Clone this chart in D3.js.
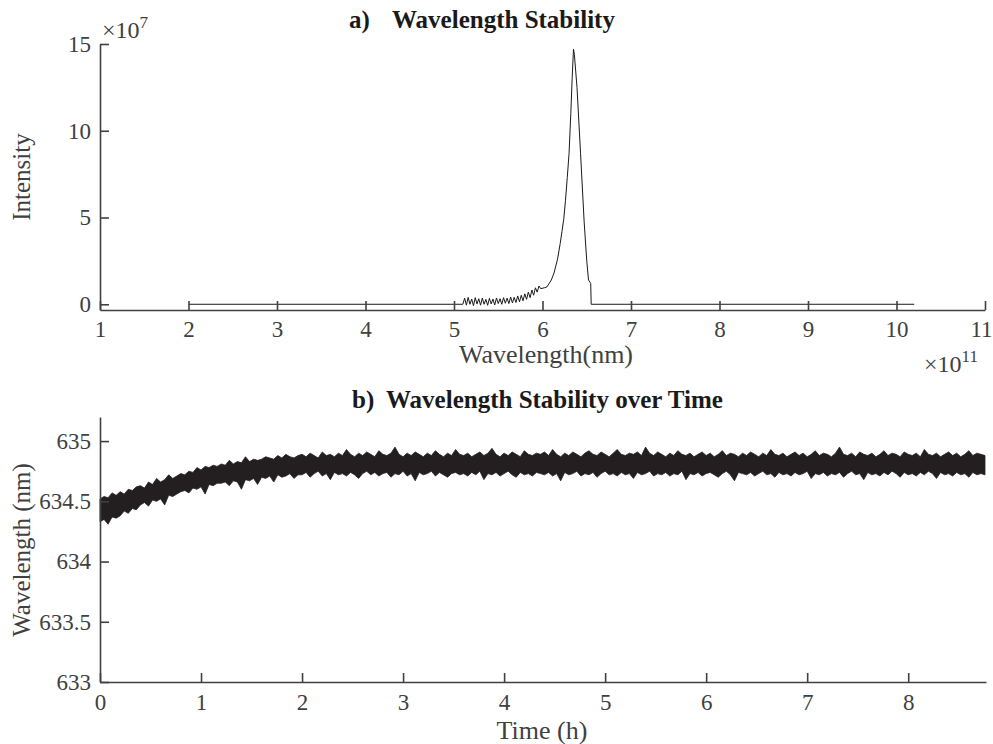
<!DOCTYPE html>
<html lang="en">
<head>
<meta charset="UTF-8">
<title>Wavelength Stability</title>
<script src="https://cdn.jsdelivr.net/npm/d3@7"></script>
<style>
  body { margin: 0; background: #fff; }
  svg text { font-family: "Liberation Serif", "Times New Roman", serif; }
  .axis path, .axis line { stroke: #404040; stroke-width: 1.6px; }
  .axis text { fill: #404040; font-size: 23px; font-family: "Liberation Serif", "Times New Roman", serif; }
  .label { fill: #404040; font-size: 26px; }
  .title { fill: #1a1a1a; font-size: 25px; font-weight: bold; }
</style>
</head>
<body>
<div id="chart"></div>
<script>
// a) spectrum: wavelength in units of 1e11 nm, intensity in units of 1e7
var specWavelength = [2.0,
  5.10, 5.12, 5.14, 5.16, 5.18, 5.20, 5.22, 5.24, 5.26, 5.28,
  5.30, 5.32, 5.34, 5.36, 5.38, 5.40, 5.42, 5.44, 5.46, 5.48,
  5.50, 5.52, 5.54, 5.56, 5.58, 5.60, 5.62, 5.64, 5.66, 5.68,
  5.70, 5.72, 5.74, 5.76, 5.78, 5.80, 5.82, 5.84, 5.86, 5.88,
  5.90, 5.92, 5.94, 5.96, 5.98,
  6.02, 6.05, 6.10, 6.13, 6.17, 6.20, 6.22, 6.24, 6.26, 6.28, 6.30,
  6.32, 6.335, 6.35, 6.36, 6.39, 6.43, 6.47, 6.50, 6.52, 6.545, 6.55, 10.2];
var specIntensity = [0,
  0.00, 0.35, -0.05, 0.40, 0.00, 0.30, -0.08, 0.38, 0.02, 0.32,
  -0.05, 0.36, 0.00, 0.28, -0.06, 0.34, 0.02, 0.30, -0.04, 0.36,
  0.04, 0.32, 0.00, 0.38, 0.06, 0.35, 0.04, 0.42, 0.08, 0.40,
  0.10, 0.48, 0.14, 0.52, 0.20, 0.60, 0.28, 0.70, 0.38, 0.82,
  0.52, 0.95, 0.70, 1.05, 0.90,
  0.95, 1.0, 1.4, 1.8, 2.6, 3.5, 4.2, 4.9, 6.0, 7.3, 8.7,
  11.0, 13.0, 14.7, 14.4, 12.5, 8.7, 4.8, 2.5, 1.4, 1.2, 0, 0];
var specXTicks = [1, 2, 3, 4, 5, 6, 7, 8, 9, 10, 11];
var specYTicks = [0, 5, 10, 15];

// b) wavelength over time: sampled every 0.04 h, band edges of the trace in nm
var timeStep = 0.04;
var bandHigh = [
  634.52, 634.54, 634.53, 634.57, 634.55, 634.58, 634.56, 634.60, 634.59, 634.62,
  634.63, 634.61, 634.66, 634.64, 634.69, 634.66, 634.68, 634.72, 634.69, 634.71,
  634.73, 634.72, 634.75, 634.74, 634.78, 634.76, 634.79, 634.78, 634.80, 634.79,
  634.81, 634.80, 634.84, 634.81, 634.83, 634.82, 634.87, 634.83, 634.85, 634.84,
  634.85, 634.87, 634.86, 634.85, 634.88, 634.86, 634.89, 634.87, 634.86, 634.88,
  634.89, 634.87, 634.90, 634.88, 634.86, 634.91, 634.88, 634.89, 634.87, 634.90,
  634.88, 634.93, 634.89, 634.87, 634.90, 634.88, 634.91, 634.89, 634.87, 634.92,
  634.89, 634.88, 634.90, 634.95, 634.89, 634.87, 634.90, 634.88, 634.91, 634.89,
  634.87, 634.90, 634.88, 634.92, 634.89, 634.87, 634.90, 634.88, 634.93, 634.89,
  634.88, 634.90, 634.87, 634.89, 634.91, 634.88, 634.90, 634.94, 634.89, 634.87,
  634.90, 634.88, 634.91, 634.89, 634.87, 634.92, 634.89, 634.88, 634.90, 634.89,
  634.91, 634.88, 634.93, 634.89, 634.87, 634.90, 634.88, 634.91, 634.89, 634.87,
  634.90, 634.92, 634.89, 634.88, 634.91, 634.89, 634.87, 634.90, 634.93, 634.89,
  634.88, 634.90, 634.89, 634.91, 634.88, 634.95, 634.90, 634.88, 634.91, 634.89,
  634.87, 634.90, 634.88, 634.92, 634.89, 634.88, 634.90, 634.87, 634.89, 634.91,
  634.88, 634.90, 634.87, 634.89, 634.92, 634.88, 634.90, 634.89, 634.87, 634.90,
  634.88, 634.91, 634.89, 634.87, 634.90, 634.88, 634.93, 634.89, 634.88, 634.90,
  634.87, 634.89, 634.91, 634.88, 634.90, 634.87, 634.89, 634.92, 634.88, 634.90,
  634.89, 634.87, 634.90, 634.95, 634.89, 634.88, 634.90, 634.87, 634.91, 634.89,
  634.88, 634.90, 634.87, 634.89, 634.92, 634.88, 634.90, 634.89, 634.87, 634.91,
  634.89, 634.88, 634.90, 634.87, 634.93, 634.89, 634.88, 634.90, 634.87, 634.89,
  634.91, 634.88, 634.90, 634.87, 634.89, 634.92, 634.88, 634.90, 634.89, 634.88];
var bandLow = [
  634.33, 634.35, 634.31, 634.37, 634.36, 634.38, 634.42, 634.40, 634.44, 634.43,
  634.47, 634.49, 634.46, 634.51, 634.50, 634.52, 634.47, 634.55, 634.54, 634.56,
  634.58, 634.59, 634.57, 634.61, 634.60, 634.62, 634.56, 634.64, 634.63, 634.65,
  634.65, 634.66, 634.63, 634.67, 634.66, 634.60, 634.68, 634.67, 634.69, 634.64,
  634.70, 634.69, 634.71, 634.66, 634.72, 634.70, 634.71, 634.73, 634.69, 634.72,
  634.72, 634.74, 634.70, 634.73, 634.75, 634.71, 634.73, 634.68, 634.74, 634.72,
  634.73, 634.71, 634.74, 634.72, 634.69, 634.73, 634.75, 634.72, 634.74, 634.71,
  634.73, 634.74, 634.70, 634.73, 634.72, 634.75, 634.71, 634.73, 634.67, 634.74,
  634.72, 634.73, 634.75, 634.71, 634.74, 634.72, 634.70, 634.73, 634.74, 634.72,
  634.73, 634.71, 634.74, 634.72, 634.75, 634.68, 634.73, 634.72, 634.74, 634.71,
  634.73, 634.75, 634.72, 634.70, 634.74, 634.72, 634.73, 634.71, 634.74, 634.73,
  634.72, 634.74, 634.71, 634.73, 634.67, 634.74, 634.72, 634.73, 634.75, 634.71,
  634.73, 634.72, 634.74, 634.70, 634.73, 634.75, 634.72, 634.73, 634.71, 634.74,
  634.72, 634.73, 634.69, 634.74, 634.72, 634.73, 634.75, 634.71, 634.73, 634.72,
  634.74, 634.71, 634.73, 634.72, 634.75, 634.68, 634.73, 634.72, 634.74, 634.71,
  634.73, 634.74, 634.72, 634.70, 634.73, 634.75, 634.72, 634.67, 634.74, 634.73,
  634.72, 634.74, 634.71, 634.73, 634.75, 634.72, 634.73, 634.70, 634.74, 634.72,
  634.73, 634.71, 634.74, 634.72, 634.73, 634.75, 634.69, 634.73, 634.72, 634.74,
  634.71, 634.73, 634.72, 634.74, 634.70, 634.73, 634.75, 634.72, 634.73, 634.68,
  634.74, 634.72, 634.73, 634.71, 634.74, 634.72, 634.75, 634.73, 634.70, 634.74,
  634.72, 634.73, 634.71, 634.74, 634.72, 634.75, 634.73, 634.69, 634.74, 634.72,
  634.73, 634.71, 634.74, 634.72, 634.73, 634.70, 634.74, 634.72, 634.73, 634.72];
var timeXTicks = [0, 1, 2, 3, 4, 5, 6, 7, 8];
var timeYTicks = [633, 633.5, 634, 634.5, 635];

var width = 993, height = 744;
var svg = d3.select("#chart").append("svg")
    .attr("width", width)
    .attr("height", height);

// ---------- panel a ----------
var xa = d3.scaleLinear().domain([1, 11]).range([100, 985]);
var ya = d3.scaleLinear().domain([-0.33, 15]).range([310, 44]);

var spec = specWavelength.map(function(w, i) { return {w: w, v: specIntensity[i]}; });
svg.append("path")
    .datum(spec)
    .attr("fill", "none")
    .attr("stroke", "#1a1a1a")
    .attr("stroke-width", 1)
    .attr("d", d3.line()
      .x(function(d) { return xa(d.w); })
      .y(function(d) { return ya(d.v); }));

var xAxisA = svg.append("g")
    .attr("class", "axis")
    .attr("transform", "translate(0,310)")
    .call(d3.axisBottom(xa).tickValues(specXTicks).tickSizeInner(-9).tickSizeOuter(0).tickPadding(11).tickFormat(d3.format("d")));
// last label sits on the right edge, nudge it in
xAxisA.selectAll(".tick text").filter(function(d) { return d === 11; }).attr("dx", -4);

svg.append("g")
    .attr("class", "axis")
    .attr("transform", "translate(100,0)")
    .call(d3.axisLeft(ya).tickValues(specYTicks).tickSizeInner(-9).tickSizeOuter(0).tickPadding(9).tickFormat(d3.format("d")));

svg.append("text").attr("class", "label")
    .attr("text-anchor", "middle")
    .attr("transform", "translate(30,177) rotate(-90)")
    .style("font-size", "25px")
    .text("Intensity");
svg.append("text").attr("class", "label")
    .attr("x", 546).attr("y", 363)
    .attr("text-anchor", "middle")
    .text("Wavelength(nm)");

// exponent labels
var expA = svg.append("text").attr("class", "label").attr("x", 102).attr("y", 38).style("font-size", "24px");
expA.append("tspan").text("\u00d710");
expA.append("tspan").attr("dy", -10).style("font-size", "17px").text("7");
var expB = svg.append("text").attr("class", "label").attr("x", 924).attr("y", 372).style("font-size", "24px");
expB.append("tspan").text("\u00d710");
expB.append("tspan").attr("dy", -10).style("font-size", "17px").text("11");

var titleA = svg.append("text").attr("class", "title").attr("y", 28);
titleA.append("tspan").attr("x", 349).text("a)");
titleA.append("tspan").attr("x", 392).text("Wavelength Stability");

// ---------- panel b ----------
var xb = d3.scaleLinear().domain([0, 8.77]).range([100, 986]);
var yb = d3.scaleLinear().domain([633, 635.2]).range([682, 417]);

var band = bandHigh.map(function(h, i) { return {t: i * timeStep, hi: h, lo: bandLow[i]}; });
svg.append("path")
    .datum(band)
    .attr("fill", "#231f20")
    .attr("stroke", "#231f20")
    .attr("stroke-width", 0.8)
    .attr("d", d3.area()
      .x(function(d) { return xb(d.t); })
      .y0(function(d) { return yb(d.lo); })
      .y1(function(d) { return yb(d.hi); }));

svg.append("g")
    .attr("class", "axis")
    .attr("transform", "translate(0,682)")
    .call(d3.axisBottom(xb).tickValues(timeXTicks).tickSizeInner(-9).tickSizeOuter(0).tickPadding(12).tickFormat(d3.format("d")));
svg.append("g")
    .attr("class", "axis")
    .attr("transform", "translate(100,0)")
    .call(d3.axisLeft(yb).tickValues(timeYTicks).tickSizeInner(-9).tickSizeOuter(0).tickPadding(9).tickFormat(d3.format("")));

svg.append("text").attr("class", "label")
    .attr("text-anchor", "middle")
    .attr("transform", "translate(30,550) rotate(-90)")
    .style("font-size", "25px")
    .text("Wavelength (nm)");
svg.append("text").attr("class", "label")
    .attr("x", 542).attr("y", 739)
    .attr("text-anchor", "middle")
    .text("Time (h)");

var titleB = svg.append("text").attr("class", "title").attr("y", 408);
titleB.append("tspan").attr("x", 352).text("b)");
titleB.append("tspan").attr("x", 386).text("Wavelength Stability over Time");
</script>
</body>
</html>
